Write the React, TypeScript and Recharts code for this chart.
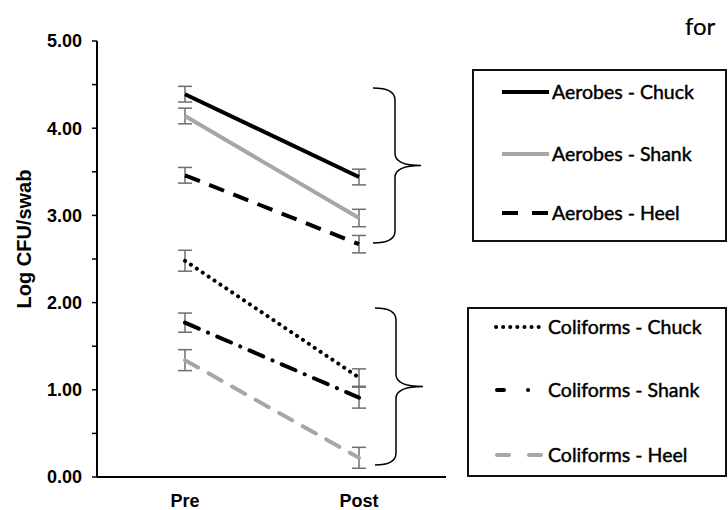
import { LineChart, Line, XAxis, YAxis, ErrorBar } from "recharts";

const categories = ["Pre", "Post"];
const aerobesChuck = [4.39, 3.44];
const aerobesChuckErr = [0.09, 0.09];
const aerobesShank = [4.14, 2.97];
const aerobesShankErr = [0.09, 0.1];
const aerobesHeel = [3.46, 2.67];
const aerobesHeelErr = [0.09, 0.1];
const coliformsChuck = [2.48, 1.14];
const coliformsChuckErr = [0.12, 0.1];
const coliformsShank = [1.77, 0.91];
const coliformsShankErr = [0.11, 0.12];
const coliformsHeel = [1.34, 0.22];
const coliformsHeelErr = [0.12, 0.12];
const yTicks = [0, 0.5, 1, 1.5, 2, 2.5, 3, 3.5, 4, 4.5, 5];

const data = categories.map((c, i) => ({
  cat: c,
  aChuck: aerobesChuck[i],
  aChuckErr: aerobesChuckErr[i],
  aShank: aerobesShank[i],
  aShankErr: aerobesShankErr[i],
  aHeel: aerobesHeel[i],
  aHeelErr: aerobesHeelErr[i],
  cChuck: coliformsChuck[i],
  cChuckErr: coliformsChuckErr[i],
  cShank: coliformsShank[i],
  cShankErr: coliformsShankErr[i],
  cHeel: coliformsHeel[i],
  cHeelErr: coliformsHeelErr[i],
}));

const BLACK = "#000000";
const GRAY = "#a6a6a6";
const ERR = "#6e6e6e";

// dash = pattern on the plot, legendDash = pattern of the little legend sample
const series = [
  { key: "aChuck", name: "Aerobes - Chuck", color: BLACK, dash: undefined, legendDash: undefined, cap: "butt" },
  { key: "aShank", name: "Aerobes - Shank", color: GRAY, dash: undefined, legendDash: undefined, cap: "butt" },
  { key: "aHeel", name: "Aerobes - Heel", color: BLACK, dash: "16 10", legendDash: "16 14", cap: "butt" },
  { key: "cChuck", name: "Coliforms - Chuck", color: BLACK, dash: "0.1 7", legendDash: "0.1 7", cap: "round" },
  { key: "cShank", name: "Coliforms - Shank", color: BLACK, dash: "15 10 0.1 10", legendDash: "7 24 0.1 40", cap: "round" },
  { key: "cHeel", name: "Coliforms - Heel", color: GRAY, dash: "15 12", legendDash: "12 20", cap: "round" },
];

const axisFont = { fontSize: 18, fontWeight: 700, fill: "#000", fontFamily: "'Liberation Sans', Arial, sans-serif" };
const legendFont = { fontSize: 19.5, fill: "#000", stroke: "#000", strokeWidth: 0.45, fontFamily: "Lato, sans-serif" };

function brace(x0: number, xv: number, tip: number, top: number, bot: number) {
  const mid = (top + bot) / 2;
  const r = 12;
  return `M${x0},${top} Q${xv},${top} ${xv},${top + r} L${xv},${mid - r} Q${xv},${mid} ${tip},${mid} Q${xv},${mid} ${xv},${mid + r} L${xv},${bot - r} Q${xv},${bot} ${x0},${bot}`;
}

function LegendRow({ s, x1, x2, tx, y }: { s: (typeof series)[number]; x1: number; x2: number; tx: number; y: number }) {
  return (
    <g>
      <line x1={x1} y1={y} x2={x2} y2={y} stroke={s.color} strokeWidth={4} strokeDasharray={s.legendDash} strokeLinecap={s.cap as any} />
      <text x={tx} y={y + 7} style={legendFont}>{s.name}</text>
    </g>
  );
}

export default function App() {
  return (
    <div style={{ position: "absolute", left: 0, top: 0, width: 728, height: 510, background: "#fff" }}>
      <LineChart width={728} height={510} data={data} margin={{ top: 41, right: 282, bottom: 0, left: 0 }}>
        <XAxis
          dataKey="cat"
          height={33}
          padding={{ left: 88, right: 87 }}
          tickLine={false}
          tickSize={0}
          tickMargin={17}
          axisLine={{ stroke: "#000", strokeWidth: 2 }}
          tick={axisFont}
        />
        <YAxis
          width={97}
          domain={[0, 5]}
          ticks={yTicks}
          interval={0}
          tickSize={5}
          tickMargin={10}
          tickFormatter={(v: number) => (Number.isInteger(v) ? v.toFixed(2) : "")}
          axisLine={{ stroke: "#000", strokeWidth: 2 }}
          tickLine={{ stroke: "#000", strokeWidth: 1.5 }}
          tick={axisFont}
        />
        {series.map((s) => (
          <Line
            key={s.key}
            dataKey={s.key}
            name={s.name}
            stroke={s.color}
            strokeWidth={4}
            strokeDasharray={s.dash}
            strokeLinecap={s.cap as any}
            dot={false}
            activeDot={false}
            isAnimationActive={false}
          >
            <ErrorBar dataKey={`${s.key}Err`} direction="y" width={7} stroke={ERR} strokeWidth={1.5} />
          </Line>
        ))}
      </LineChart>
      <svg width={728} height={510} style={{ position: "absolute", left: 0, top: 0, pointerEvents: "none" }}>
        <text transform="translate(31,239) rotate(-90)" textAnchor="middle" style={{ ...axisFont, fontSize: 20 }}>
          Log CFU/swab
        </text>
        <text x={685} y={35} style={{ ...legendFont, fontSize: 24, strokeWidth: 0.2 }}>for</text>
        <path d={brace(373, 395, 421, 88, 243)} fill="none" stroke="#000" strokeWidth={1.5} />
        <path d={brace(375, 396, 423, 308, 465)} fill="none" stroke="#000" strokeWidth={1.5} />
        <rect x={473} y={70} width={253} height={171} fill="none" stroke="#111" strokeWidth={2} />
        <LegendRow s={series[0]} x1={502} x2={549} tx={552} y={92} />
        <LegendRow s={series[1]} x1={502} x2={549} tx={552} y={154} />
        <LegendRow s={series[2]} x1={502} x2={549} tx={552} y={213} />
        <rect x={468} y={308} width={258} height={168} fill="none" stroke="#111" strokeWidth={2} />
        <LegendRow s={series[3]} x1={496} x2={543} tx={548} y={327} />
        <LegendRow s={series[4]} x1={497} x2={533} tx={548} y={390} />
        <LegendRow s={series[5]} x1={497} x2={543} tx={548} y={455} />
      </svg>
    </div>
  );
}
